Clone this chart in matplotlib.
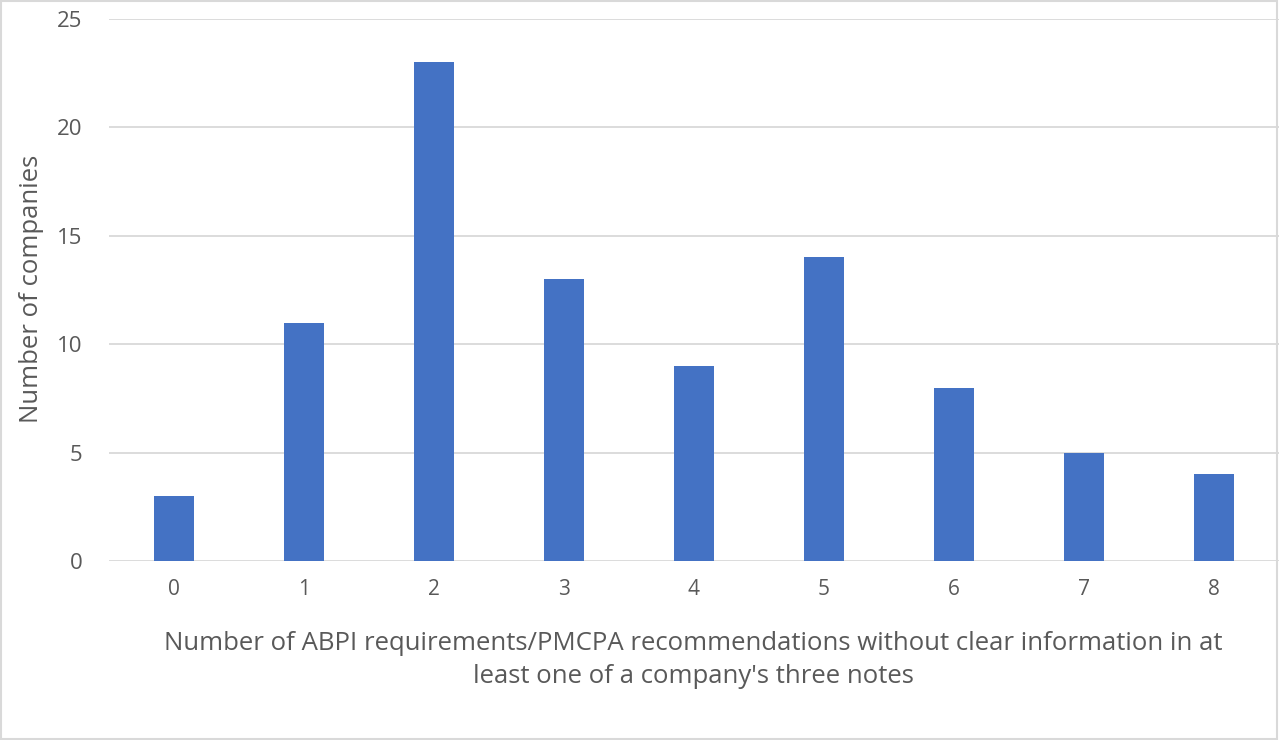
import numpy as np
import matplotlib.pyplot as plt
from matplotlib.patches import Rectangle

# Chart data
categories = ["0", "1", "2", "3", "4", "5", "6", "7", "8"]
companies = [3, 11, 23, 13, 9, 14, 8, 5, 4]

plt.rcParams["font.family"] = ["Open Sans", "DejaVu Sans"]
text_col = "#595959"

fig = plt.figure(figsize=(12.8, 7.4), dpi=100)
ax = fig.add_axes([109/1280, 1 - 561/740, 1170/1280, 542/740])

x = np.arange(len(categories))
ax.bar(x, companies, width=40/130, color="#4472C4", zorder=3)

ax.set_xlim(-0.5, len(categories) - 0.5)
ax.set_ylim(0, 25)
ax.set_yticks(range(0, 26, 5))
ax.set_xticks(x)
ax.set_xticklabels(categories)
ax.yaxis.grid(True, color="#D9D9D9", linewidth=1.3, zorder=0)
ax.set_axisbelow(True)
for s in ax.spines.values():
    s.set_visible(False)
ax.tick_params(length=0, labelsize=15, colors=text_col)
ax.tick_params(axis="x", pad=13)
ax.tick_params(axis="y", labelsize=16, pad=19)

fig.text(32/1280, 1 - 289/740, "Number of companies", rotation=90,
         ha="center", va="center", fontsize=18.5, color=text_col)
fig.text(693/1280, 1 - 660/740,
         "Number of ABPI requirements/PMCPA recommendations without clear information in at\n"
         "least one of a company's three notes",
         ha="center", va="center", fontsize=18.5, color=text_col, linespacing=1.45)

# light outer frame
fig.patches.append(Rectangle((0.001, 0.001), 0.997, 0.997, transform=fig.transFigure,
                             fill=False, edgecolor="#D9D9D9", linewidth=1.5))

fig.savefig("out.png", dpi=100)
